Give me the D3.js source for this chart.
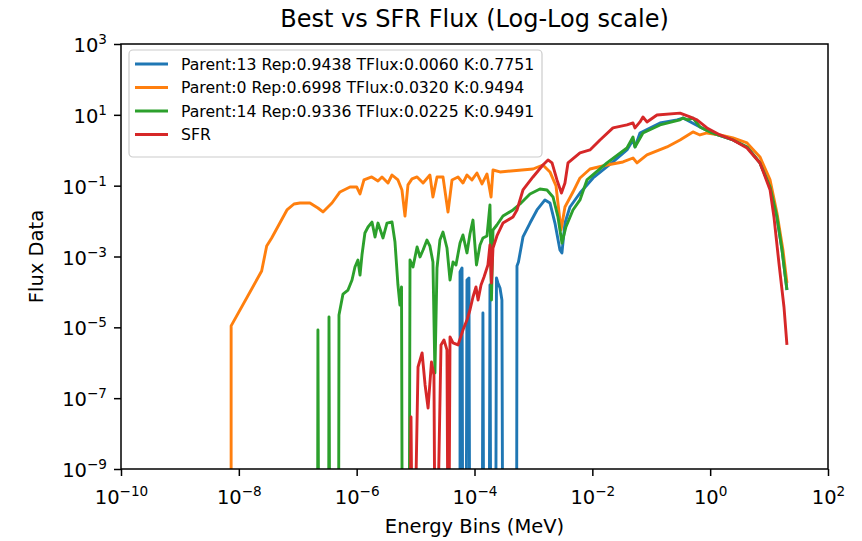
<!DOCTYPE html>
<html><head><meta charset="utf-8">
<script src="https://cdn.jsdelivr.net/npm/d3@7"></script>
<style>
body{margin:0;background:#fff}
svg text{font-family:"DejaVu Sans",sans-serif;fill:#000}
</style>
</head><body>
<svg id="chart" width="862" height="541"></svg>
<script>
// ---------- data ----------
const titleText = "Best vs SFR Flux (Log-Log scale)";
const xLabel = "Energy Bins (MeV)";
const yLabel = "Flux Data";
const xTicks = [1e-10, 1e-8, 1e-6, 1e-4, 1e-2, 1e0, 1e2];
const yTicks = [1e-9, 1e-7, 1e-5, 1e-3, 1e-1, 1e1, 1e3];
const seriesNames = [
  "Parent:13 Rep:0.9438 TFlux:0.0060 K:0.7751",
  "Parent:0 Rep:0.6998 TFlux:0.0320 K:0.9494",
  "Parent:14 Rep:0.9336 TFlux:0.0225 K:0.9491",
  "SFR"
];
const seriesColors = ["#1f77b4", "#ff7f0e", "#2ca02c", "#d62728"];

// Parent:13
const energyP13 = [5.68e-5,5.68e-5,6.14e-5,6.37e-5,7.16e-5,7.45e-5,8.05e-5,8.37e-5,1.34e-4,1.39e-4,1.45e-4,1.76e-4,1.83e-4,1.91e-4,2.27e-4,2.36e-4,2.5e-4,2.71e-4,2.92e-4,3.04e-4,5.16e-4,
  5.26e-4,5.57e-4,6.65e-4,8.75e-4,1.15e-3,1.57e-3,1.91e-3,2.32e-3,2.82e-3,3.05e-3,3.43e-3,4.17e-3,6.17e-3,1.03e-2,2.24e-2,3.87e-2,4.9e-2,5.3e-2,6.44e-2,0.141,0.274,0.346,
  0.671,1.07,2.44,4.22,7.0,10.4,13.6,16.6,20.1];
const fluxP13 = [0,3.65e-4,4.73e-4,0,0,2.17e-4,2.47e-4,0,0,2.54e-5,0,0,1.57e-4,0,0,2.47e-4,1.79e-4,1.29e-4,5.9e-5,0,0,
  5.4e-4,7e-4,3.56e-3,8.8e-3,2.06e-2,3.95e-2,3.25e-2,8.8e-3,1.53e-3,1.26e-3,8.8e-3,2.5e-2,6.2e-2,0.165,0.467,1.02,1.95,1.24,3.08,5.9,7.2,8.1,
  4.55,3.08,1.95,1.24,0.438,9.2e-2,1.31e-2,1.53e-3,1.13e-4];

// Parent:0
const energyP0 = [7.4e-9,7.4e-9,2.44e-8,2.97e-8,3.61e-8,6.56e-8,8.63e-8,1.09e-7,1.61e-7,2.2e-7,2.68e-7,3.81e-7,5.21e-7,7.71e-7,1.0e-6,1.14e-6,1.33e-6,1.8e-6,2.3e-6,2.69e-6,
  3.4e-6,3.98e-6,5.02e-6,5.87e-6,6.61e-6,7.43e-6,8.69e-6,1.06e-5,1.34e-5,1.75e-5,1.97e-5,2.31e-5,2.92e-5,3.55e-5,4.15e-5,5.25e-5,6.37e-5,7.45e-5,9.06e-5,1.1e-4,
  1.34e-4,1.63e-4,1.91e-4,2.06e-4,2.71e-4,9.84e-4,1.45e-3,1.91e-3,2.42e-3,2.94e-3,3.43e-3,4.69e-3,6.17e-3,9.12e-3,1.77e-2,3.31e-2,4.9e-2,5.73e-2,8.45e-2,0.185,
  0.308,0.51,0.671,0.883,1.47,2.44,4.22,7.0,10.4,13.6,17.2,20.1];
const fluxP0 = [0,1.1e-5,3.9e-4,1.98e-3,3.33e-3,2.06e-2,3.04e-2,3.24e-2,3.24e-2,2.34e-2,1.81e-2,3.24e-2,6.64e-2,9.19e-2,9.2e-2,5.83e-2,0.145,0.176,0.136,0.176,
  0.119,0.2,0.145,7.56e-2,1.39e-2,0.105,0.155,0.176,0.119,0.2,4.8e-2,0.176,0.176,1.81e-2,0.145,0.176,0.119,0.2,0.145,0.228,
  0.112,0.214,4.8e-2,0.277,0.244,0.296,0.384,0.244,9.8e-2,5.6e-3,2.5e-2,6.6e-2,0.165,0.296,0.384,0.467,0.605,0.438,0.736,1.24,
  1.95,3.29,2.7,3.08,2.7,2.22,1.61,0.647,0.145,1.7e-2,1.53e-3,1.79e-4];

// Parent:14
const energyP14 = [2.16e-7,2.2e-7,2.29e-7,3.33e-7,3.39e-7,3.52e-7,4.91e-7,5.01e-7,5.86e-7,7.13e-7,8.34e-7,9.35e-7,1.05e-6,1.14e-6,1.23e-6,1.38e-6,1.56e-6,1.82e-6,2.05e-6,2.3e-6,
  2.8e-6,3.27e-6,3.98e-6,4.47e-6,5.02e-6,5.43e-6,5.77e-6,6.0e-6,
  7.73e-6,8.04e-6,9.04e-6,1.06e-5,1.19e-5,1.34e-5,1.56e-5,1.75e-5,1.97e-5,2.13e-5,2.31e-5,2.59e-5,2.92e-5,3.41e-5,3.84e-5,4.32e-5,4.85e-5,5.68e-5,6.37e-5,7.45e-5,8.37e-5,9.42e-5,
  1.08e-4,1.24e-4,1.39e-4,1.63e-4,1.83e-4,1.94e-4,2.06e-4,2.4e-4,3.04e-4,4.5e-4,5.92e-4,8.75e-4,1.29e-3,1.7e-3,2.15e-3,2.61e-3,3.05e-3,3.56e-3,4.69e-3,6.17e-3,
  8.1e-3,1.77e-2,3.87e-2,4.9e-2,5.3e-2,7.23e-2,0.141,0.308,0.346,0.42,0.51,0.671,1.07,2.44,4.22,7.0,10.4,13.6,16.6,20.1];
const fluxP14 = [0,8.4e-6,0,0,1.95e-5,0,0,2.24e-5,8.7e-5,1.13e-4,2.17e-4,5.06e-4,7.96e-4,3e-4,1.1e-3,4.61e-3,6.8e-3,9.4e-3,3.56e-3,8.8e-3,
  3.33e-3,8.8e-3,9.4e-3,2.56e-3,1.57e-4,4.27e-5,1.38e-4,0,
  0,7.96e-4,5.06e-4,1.85e-3,9.7e-4,1.53e-3,2.92e-3,1.98e-3,7e-4,5.15e-7,4.73e-4,2.92e-3,4.92e-3,1.74e-3,2.17e-4,7e-4,5.76e-4,2.4e-3,4.05e-3,1.26e-3,4.32e-3,1.07e-2,
  5.76e-4,2.11e-3,3.33e-3,3.8e-3,2.85e-2,5.9e-5,5.6e-3,7.76e-3,1.39e-2,2.06e-2,3.04e-2,5.83e-2,8.07e-2,7.56e-2,4.8e-2,1.31e-2,2.4e-3,6.8e-3,2.06e-2,3.95e-2,
  0.145,0.438,1.16,2.38,1.24,3.08,5.18,7.2,8.1,7.2,8.1,4.55,3.08,1.95,1.24,0.438,9.2e-2,1.31e-2,1.53e-3,1.13e-4];

// SFR
const energySFR = [7.87e-6,8.36e-6,9.04e-6,1.1e-5,1.29e-5,1.45e-5,1.63e-5,1.86e-5,2.05e-5,2.18e-5,2.7e-5,3.03e-5,3.41e-5,3.61e-5,3.84e-5,4.32e-5,5.25e-5,6.37e-5,7.45e-5,8.37e-5,
  9.42e-5,1.06e-4,1.15e-4,1.29e-4,1.45e-4,1.69e-4,1.83e-4,1.94e-4,2.06e-4,2.4e-4,3.04e-4,4.5e-4,5.26e-4,6.65e-4,9.84e-4,1.45e-3,1.77e-3,2.07e-3,2.51e-3,2.99e-3,
  3.43e-3,3.86e-3,6.17e-3,9.12e-3,1.35e-2,2.24e-2,3.87e-2,4.9e-2,5.3e-2,6.44e-2,7.23e-2,8.45e-2,0.125,0.308,0.454,0.597,0.883,1.47,2.44,4.22,
  7.0,10.4,12.1,14.7,17.9,20.1];
const fluxSFR = [0,2.94e-8,0,7.6e-7,1.89e-6,2.36e-7,5.28e-8,1.05e-6,4.53e-7,0,3.18e-6,4.41e-6,2.3e-6,0,5.36e-6,3.62e-6,3.18e-6,8.4e-6,1.61e-5,3.08e-5,
  7.18e-5,1.38e-4,5.9e-5,1.57e-4,2.64e-4,5.76e-4,2.11e-3,1.79e-4,1.74e-3,3.8e-3,8.8e-3,1.31e-2,2.06e-2,7.56e-2,0.176,0.384,0.532,0.438,0.145,6.2e-2,
  0.119,0.438,0.84,1.02,1.95,4.27,5.18,5.9,4.27,6.3,8.7,6.3,9.9,11.2,8.7,7.2,4.27,2.7,1.95,1.16,
  0.438,7.56e-2,1.31e-2,6.5e-4,3.75e-5,3.18e-6];

// ---------- drawing ----------
const svg = d3.select("#chart");
const pL = 121, pR = 828, pT = 44, pB = 469;
const x = d3.scaleLog().domain([1e-10, 1e2]).range([pL, pR]);
const y = d3.scaleLog().domain([1e-9, 1e3]).range([pB, pT]);

svg.append("rect").attr("width", 862).attr("height", 541).attr("fill", "#fff");

svg.append("clipPath").attr("id", "plotclip").append("rect")
  .attr("x", pL).attr("y", pT).attr("width", pR - pL).attr("height", pB - pT);

const series = [
  {e: energyP13, f: fluxP13},
  {e: energyP0, f: fluxP0},
  {e: energyP14, f: fluxP14},
  {e: energySFR, f: fluxSFR}
].map((s, i) => ({name: seriesNames[i], color: seriesColors[i], pts: s.e.map((v, j) => [v, s.f[j]])}));

const line = d3.line()
  .x(d => x(d[0]))
  .y(d => y(d[1] > 0 ? d[1] : 1e-14));

svg.append("g").attr("clip-path", "url(#plotclip)")
  .selectAll("path").data(series).join("path")
  .attr("d", d => line(d.pts))
  .attr("fill", "none")
  .attr("stroke", d => d.color)
  .attr("stroke-width", 2.9)
  .attr("stroke-linejoin", "round")
  .attr("stroke-linecap", "butt");

// axes
function expLabel(v) {
  const e = Math.round(Math.log10(v));
  return e < 0 ? "\u2212" + (-e) : String(e);
}
const tickFont = 19.5, expFont = 13.6;

const gx = svg.append("g").attr("transform", `translate(0,${pB})`)
  .call(d3.axisBottom(x).tickValues(xTicks).tickSize(7).tickFormat(() => ""));
gx.select(".domain").remove();
gx.selectAll(".tick line").attr("stroke", "#000").attr("stroke-width", 1.5);
gx.selectAll(".tick text").each(function(d) {
  const t = d3.select(this).attr("y", 35).attr("dy", null)
    .attr("font-size", tickFont).attr("text-anchor", "middle").attr("fill", "#000");
  t.text("10");
  t.append("tspan").attr("dy", -8).attr("font-size", expFont).text(expLabel(d));
});

const gy = svg.append("g").attr("transform", `translate(${pL},0)`)
  .call(d3.axisLeft(y).tickValues(yTicks).tickSize(7).tickFormat(() => ""));
gy.select(".domain").remove();
gy.selectAll(".tick line").attr("stroke", "#000").attr("stroke-width", 1.5);
gy.selectAll(".tick text").each(function(d) {
  const t = d3.select(this).attr("x", -14).attr("dy", null).attr("y", 7.5)
    .attr("font-size", tickFont).attr("text-anchor", "end").attr("fill", "#000");
  t.text("10");
  t.append("tspan").attr("dy", -8).attr("font-size", expFont).text(expLabel(d));
});

// frame
svg.append("rect").attr("x", pL).attr("y", pT).attr("width", pR - pL).attr("height", pB - pT)
  .attr("fill", "none").attr("stroke", "#000").attr("stroke-width", 1.5);

// labels
svg.append("text").attr("x", (pL + pR) / 2).attr("y", 27).attr("text-anchor", "middle")
  .attr("font-size", 24).text(titleText);
svg.append("text").attr("x", (pL + pR) / 2).attr("y", 533).attr("text-anchor", "middle")
  .attr("font-size", 19.5).text(xLabel);
svg.append("text").attr("transform", `translate(43,${(pT + pB) / 2}) rotate(-90)`)
  .attr("text-anchor", "middle").attr("font-size", 19.5).text(yLabel);

// legend
const lg = svg.append("g");
lg.append("rect").attr("x", 129).attr("y", 50).attr("width", 413).attr("height", 107).attr("rx", 4)
  .attr("fill", "#fff").attr("fill-opacity", 0.8).attr("stroke", "#ccc").attr("stroke-width", 1.2);
const rows = lg.selectAll("g.row").data(series).join("g").attr("class", "row")
  .attr("transform", (d, i) => `translate(0,${64 + i * 23.5})`);
rows.append("line").attr("x1", 135).attr("x2", 168).attr("y1", 0).attr("y2", 0)
  .attr("stroke", d => d.color).attr("stroke-width", 2.9);
rows.append("text").attr("x", 181).attr("y", 5.7).attr("font-size", 15.7).text(d => d.name);
</script>
</body></html>
